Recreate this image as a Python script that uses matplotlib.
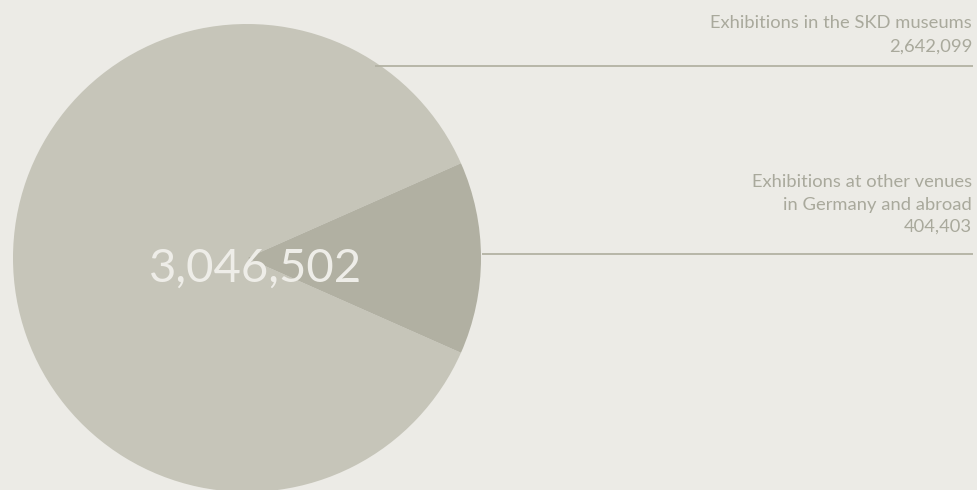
import matplotlib
matplotlib.use("Agg")
import matplotlib.pyplot as plt

categories = ["Exhibitions in the SKD museums",
              "Exhibitions at other venues\nin Germany and abroad"]
values = [2642099, 404403]
value_labels = ["2,642,099", "404,403"]
total_label = "3,046,502"

BG = "#ECEBE6"
COLORS = ["#C6C5B9", "#B1B0A2"]
TEXT = "#A9A99C"
LINE = "#B3B2A3"

plt.rcParams['font.family'] = ['Lato', 'DejaVu Sans']

fig = plt.figure(figsize=(9.77, 4.90), dpi=100)
fig.patch.set_facecolor(BG)
ax = fig.add_axes([0, 0, 1, 1])
ax.set_facecolor(BG)

total = sum(values)
small_deg = values[1] / total * 360
cx, cy, r = 247, 258, 234
ax.pie(values, colors=COLORS, startangle=small_deg / 2, counterclock=True,
       center=(cx, cy), radius=r, frame=True,
       wedgeprops=dict(linewidth=0))
ax.set_xlim(0, 977)
ax.set_ylim(490, 0)
ax.set_aspect('equal')
ax.axis('off')

ax.text(256, 282, total_label, ha='center', va='baseline', fontsize=34,
        color='#EEEDE8', fontweight='normal')

fs = 13.2
# label 1
ax.text(972, 28, categories[0], ha='right', va='baseline', fontsize=fs, color=TEXT)
ax.text(972, 52, value_labels[0], ha='right', va='baseline', fontsize=fs, color=TEXT)
ax.plot([375, 973], [66, 66], color=LINE, lw=1.3, solid_capstyle='butt')

# label 2
l1, l2 = categories[1].split("\n")
ax.text(972, 187, l1, ha='right', va='baseline', fontsize=fs, color=TEXT)
ax.text(972, 210, l2, ha='right', va='baseline', fontsize=fs, color=TEXT)
ax.text(972, 232, value_labels[1], ha='right', va='baseline', fontsize=fs, color=TEXT)
ax.plot([482, 973], [254, 254], color=LINE, lw=1.3, solid_capstyle='butt')

fig.savefig("out.png", dpi=100, facecolor=BG)
